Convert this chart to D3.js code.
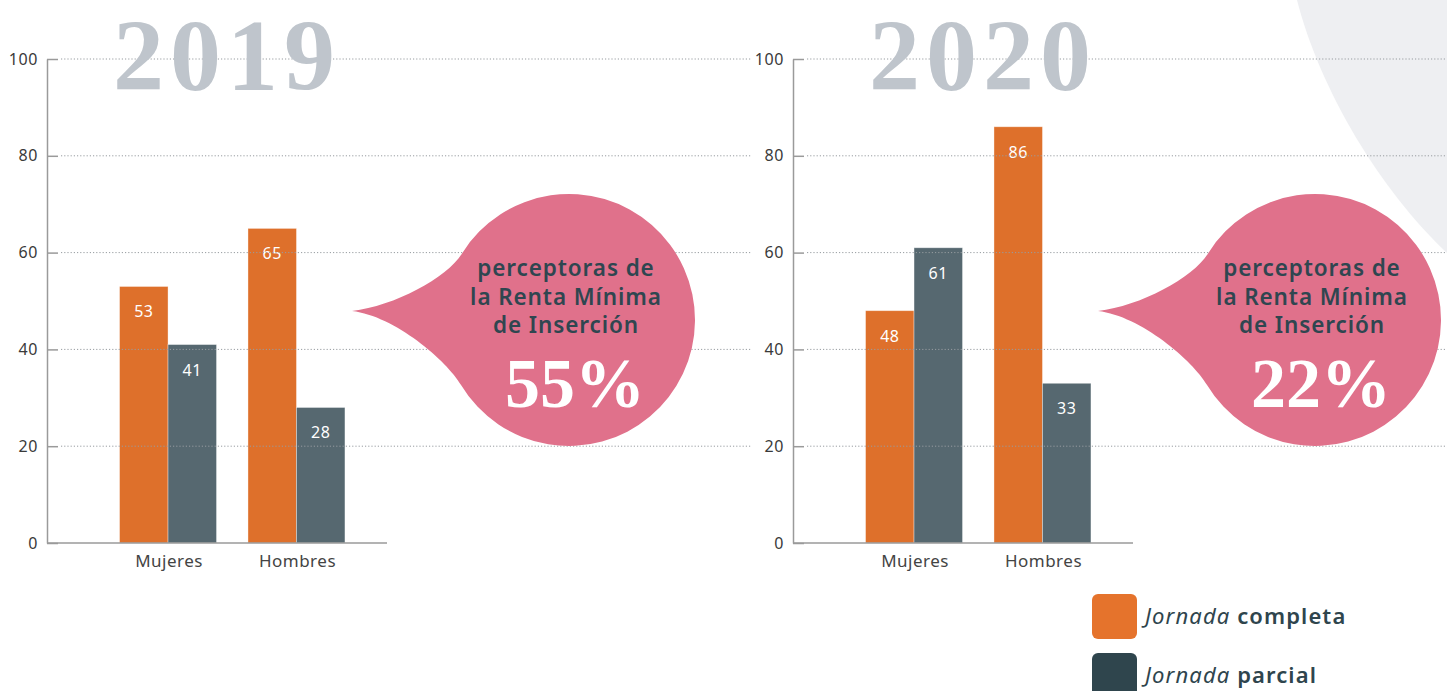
<!DOCTYPE html>
<html>
<head>
<meta charset="utf-8">
<script src="https://cdn.jsdelivr.net/npm/d3@7"></script>
<style>
  html, body { margin: 0; padding: 0; background: #fff; }
  svg { display: block; }
</style>
</head>
<body>
<div id="chart"></div>
<script>
// datos
let years = ['2019', '2020'];
let categories = ['Mujeres', 'Hombres'];
let series = ['completa', 'parcial'];
let completa = [[53, 65], [48, 86]];   // Jornada completa, por año
let parcial = [[41, 28], [61, 33]];    // Jornada parcial, por año
let rentaMinima = [55, 22];            // % perceptoras de la RMI
let yTicks = [0, 20, 40, 60, 80, 100];
let bubbleLines = ['perceptoras de', 'la Renta Mínima', 'de Inserción'];

let W = 1447, H = 691;
let colors = {completa: '#de702b', parcial: '#566870'};
let panelOffset = [0, 746];

let svg = d3.select('#chart').append('svg')
    .attr('width', W).attr('height', H);

//fondo gris arriba a la derecha
svg.append('path')
    .attr('d', 'M1297,0 C1320,90 1380,190 1447,253 L1447,0 Z')
    .attr('fill', '#eeeff2');

let y = d3.scaleLinear().domain([0, 100]).range([543, 59]);

let drawPanel = function (i) {
    let ox = panelOffset[i];
    let g = svg.append('g').attr('transform', 'translate(' + ox + ',0)');
    let axisX = 47;

    //escala de grupos
    let x0 = d3.scaleBand().domain(categories).range([103.5, 361])
        .paddingInner(0.245).paddingOuter(0.125);
    let x1 = d3.scaleBand().domain(series).range([0, x0.bandwidth()]);

    let rows = categories.map((c, k) => ({
        cat: c,
        vals: [{s: 'completa', v: completa[i][k]}, {s: 'parcial', v: parcial[i][k]}]
    }));

    //barras
    let groups = g.selectAll('g.grp').data(rows).enter().append('g')
        .attr('class', 'grp')
        .attr('transform', d => 'translate(' + x0(d.cat) + ',0)');
    groups.selectAll('rect').data(d => d.vals).enter().append('rect')
        .attr('x', d => x1(d.s))
        .attr('y', d => y(d.v))
        .attr('width', x1.bandwidth())
        .attr('height', d => y(0) - y(d.v))
        .attr('fill', d => colors[d.s])
        .attr('stroke', 'rgba(255,255,255,0.45)')
        .attr('stroke-width', 0.8);

    //líneas de rejilla punteadas
    let gridEnd = i === 0 ? 752 : W - ox;
    g.selectAll('line.grid').data(yTicks.filter(t => t > 0)).enter().append('line')
        .attr('class', 'grid')
        .attr('x1', axisX + 14).attr('x2', gridEnd)
        .attr('y1', d => y(d)).attr('y2', d => y(d))
        .attr('stroke', '#979ca0')
        .attr('stroke-width', 1)
        .attr('stroke-dasharray', '1.2,2');

    //valores
    groups.selectAll('text.val').data(d => d.vals).enter().append('text')
        .attr('class', 'val')
        .attr('x', d => x1(d.s) + x1.bandwidth() / 2)
        .attr('y', d => y(d.v) + 31)
        .attr('text-anchor', 'middle')
        .attr('fill', '#fff')
        .style('font', '16px "Noto Sans", sans-serif')
        .style('letter-spacing', '0.5px')
        .text(d => d.v);

    //año
    g.append('text')
        .attr('x', i === 0 ? 227 : 237)
        .attr('y', 90)
        .attr('text-anchor', 'middle')
        .attr('fill', '#bfc5cc')
        .style('font', 'bold 102px "Liberation Serif", serif')
        .style('letter-spacing', '6px')
        .text(years[i]);

    //eje y
    let axis = d3.axisLeft(y).tickValues(yTicks).tickSize(-11).tickSizeOuter(0).tickPadding(9);
    let ag = g.append('g').attr('transform', 'translate(' + axisX + ',0)').call(axis);
    ag.select('.domain').attr('stroke', '#9a9a9a').attr('stroke-width', 1.5);
    ag.selectAll('.tick line').attr('stroke', '#9a9a9a').attr('stroke-width', 1.5);
    ag.selectAll('.tick text').attr('fill', '#3a3a3a')
        .style('font', '16px "Noto Sans", sans-serif')
        .style('letter-spacing', '0.6px');

    //línea base
    g.append('line')
        .attr('x1', axisX).attr('x2', 387)
        .attr('y1', y(0)).attr('y2', y(0))
        .attr('stroke', '#9a9a9a').attr('stroke-width', 1.5);

    //categorías
    g.selectAll('text.cat').data(categories).enter().append('text')
        .attr('class', 'cat')
        .attr('x', d => x0(d) + x0.bandwidth() / 2 + 1)
        .attr('y', 567)
        .attr('text-anchor', 'middle')
        .attr('fill', '#444')
        .style('font', '17px "Noto Sans", sans-serif')
        .style('letter-spacing', '0.5px')
        .text(d => d);

    //bocadillo
    let cx = 569, cy = 320, r = 126;
    let tip = [352, 311];
    let au = -2.58, al = 2.6;
    let ju = [cx + r * Math.cos(au), cy + r * Math.sin(au)];
    let jl = [cx + r * Math.cos(al), cy + r * Math.sin(al)];
    let p = d3.path();
    p.moveTo(tip[0], tip[1]);
    p.bezierCurveTo(395, 306, ju[0] - 14, ju[1] + 24, ju[0], ju[1]);
    p.arc(cx, cy, r, au, al, false);
    p.bezierCurveTo(jl[0] - 14, jl[1] - 24, 395, 316, tip[0], tip[1]);
    p.closePath();
    g.append('path').attr('d', p.toString()).attr('fill', '#e0718b');

    g.selectAll('text.bub').data(bubbleLines).enter().append('text')
        .attr('class', 'bub')
        .attr('x', 566)
        .attr('y', (d, k) => 276 + k * 28.5)
        .attr('text-anchor', 'middle')
        .attr('fill', '#2f4650')
        .style('font', '600 22.5px "Noto Sans", sans-serif')
        .style('letter-spacing', '0.9px')
        .text(d => d);

    g.append('text')
        .attr('x', 575)
        .attr('y', 407)
        .attr('text-anchor', 'middle')
        .attr('fill', '#fff')
        .style('font', 'bold 70px "Liberation Serif", serif')
        .text(rentaMinima[i] + '%');
};

years.forEach((yr, i) => drawPanel(i));

//leyenda
let legend = svg.append('g').attr('transform', 'translate(1092,594)');
let lg = legend.selectAll('g').data(series).enter().append('g')
    .attr('transform', (d, k) => 'translate(0,' + k * 59 + ')');
lg.append('rect')
    .attr('width', 45).attr('height', 45).attr('rx', 6)
    .attr('fill', d => d === 'completa' ? '#e5732c' : '#2f454d');
let lt = lg.append('text')
    .attr('x', 53).attr('y', 30)
    .attr('fill', '#2f454d')
    .style('font', '22px "Noto Sans", sans-serif')
    .style('letter-spacing', '1.1px');
lt.append('tspan').style('font-style', 'italic').text('Jornada ');
lt.append('tspan').style('font-weight', 600).text(d => d);
</script>
</body>
</html>
